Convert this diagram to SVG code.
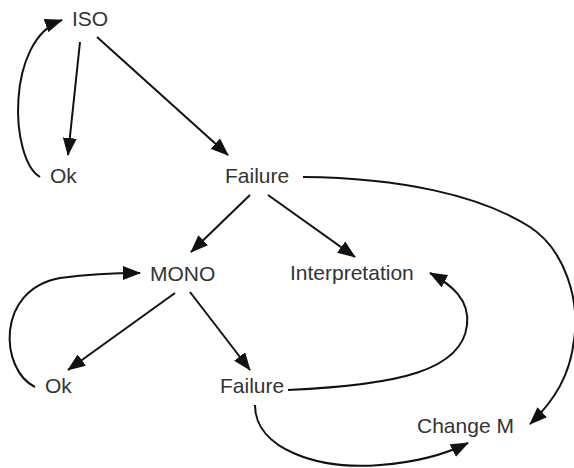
<svg xmlns="http://www.w3.org/2000/svg" width="574" height="468" viewBox="0 0 574 468">
<defs>
<marker id="ah" markerUnits="userSpaceOnUse" markerWidth="18" markerHeight="14" viewBox="0 0 18 14" refX="17" refY="7" orient="auto">
<path d="M0,0 L18,7 L0,14 Z" fill="#111"/>
</marker>
<style>
.t{font-family:"Liberation Sans",Arial,sans-serif;font-size:21px;fill:#333}
.c{fill:none;stroke:#111;stroke-width:2;marker-end:url(#ah)}
</style>
</defs>
<rect width="574" height="468" fill="#fff"/>
<g id="connectors">
<path class="c" d="M80,42 L68,155"/>
<path class="c" d="M97,37 L228,155"/>
<path class="c" d="M40,177 C10,160 5,40 62,20"/>
<path class="c" d="M250,195 L191,252"/>
<path class="c" d="M268,195 L355,257"/>
<path class="c" d="M303,177 C400,178 480,195 530,227 C565,250 580,300 574,340 C570,375 555,400 530,424"/>
<path class="c" d="M175,293 L68,370"/>
<path class="c" d="M190,292 L250,370"/>
<path class="c" d="M35,387 C0,370 -5,290 60,278 C90,274 120,273 140,273"/>
<path class="c" d="M288,390 C400,385 462,370 467,325 C470,300 452,285 430,273"/>
<path class="c" d="M255,405 C255,450 320,470 380,465 C420,462 450,452 468,443"/>
</g>
<g id="iso"><text class="t" x="72" y="26">ISO</text></g>
<g id="ok1"><text class="t" x="50" y="183">Ok</text></g>
<g id="failure1"><text class="t" x="225" y="183">Failure</text></g>
<g id="mono"><text class="t" x="150" y="281">MONO</text></g>
<g id="interpretation"><text class="t" x="290" y="280">Interpretation</text></g>
<g id="ok2"><text class="t" x="45" y="393">Ok</text></g>
<g id="failure2"><text class="t" x="220" y="393">Failure</text></g>
<g id="changem"><text class="t" x="417" y="433">Change M</text></g>
</svg>
